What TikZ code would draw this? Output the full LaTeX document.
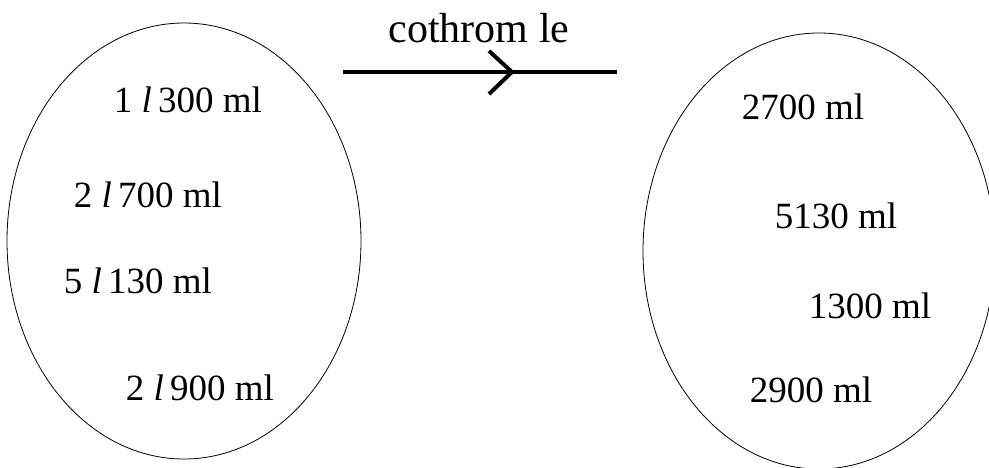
\documentclass[tikz,border=0pt]{standalone}
\usepackage{fontspec}
\setmainfont{Liberation Serif}
\usetikzlibrary{shapes.geometric}
\begin{document}
\begin{tikzpicture}[x=1pt,y=-1pt,
  blob/.style={draw=black,line width=0.8pt,ellipse,inner sep=0pt},
  qty/.style={font=\fontsize{37}{40}\selectfont,inner sep=0pt,anchor=center},
  arrowline/.style={line width=4pt,black}]
\useasboundingbox (0,0) rectangle (989,467);
\node[blob,minimum width=354pt,minimum height=436pt] (L) at (184,241) {};
\node[blob,minimum width=352pt,minimum height=436pt] (R) at (819,251) {};
\node[qty] (l1) at (188,100) {1 \textit{l}\,300 ml};
\node[qty] (l2) at (148,195) {2 \textit{l}\,700 ml};
\node[qty] (l3) at (138,281) {5 \textit{l}\,130 ml};
\node[qty] (l4) at (200,388) {2 \textit{l}\,900 ml};
\node[qty] (r1) at (803,107) {2700 ml};
\node[qty] (r2) at (836,216) {5130 ml};
\node[qty] (r3) at (870,306) {1300 ml};
\node[qty] (r4) at (811,390) {2900 ml};
\node[qty,font=\fontsize{42}{45}\selectfont] (lab) at (479,28) {cothrom le};
\coordinate (a1) at (343,72);
\coordinate (a2) at (617,72);
\coordinate (tip) at (512,72);
\draw[arrowline] (a1) -- (a2);
\draw[arrowline] (489,51) -- (tip) -- (489,94);
\end{tikzpicture}
\end{document}
